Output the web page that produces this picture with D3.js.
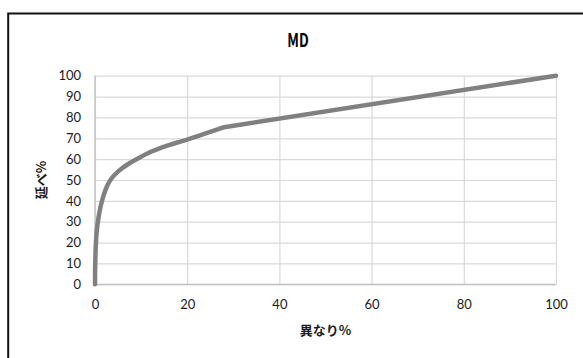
<!DOCTYPE html>
<html>
<head>
<meta charset="utf-8">
<script src="https://cdn.jsdelivr.net/npm/d3@7"></script>
<style>
  html, body { margin: 0; padding: 0; background: #fff; }
  svg { display: block; }
</style>
</head>
<body>
<svg id="chart" width="583" height="358"></svg>
<script>
// Cumulative share curve: distinct-item % (x) vs running-total % (y)
const xValues = [0, 0.05, 0.2, 0.4, 0.7, 1.0, 1.4, 2.0, 2.7, 3.5, 4.5, 5.8, 7.3, 9.2, 12, 14, 16, 18, 20, 24, 28, 100];
const yValues = [0, 10, 20, 26, 31, 35, 39, 43.5, 47.5, 50.5, 53, 55.5, 57.8, 60.2, 63.4, 65.2, 66.7, 68.1, 69.4, 72.3, 75.3, 100];
const xTicks = [0, 20, 40, 60, 80, 100];
const yTicks = [0, 10, 20, 30, 40, 50, 60, 70, 80, 90, 100];

const chartTitle = "MD";
const xTitle = "異なり%";
const yTitle = "延べ%";

const svg = d3.select("#chart");
const plot = { left: 95, right: 556, top: 75.7, bottom: 284.3 };

const x = d3.scaleLinear().domain([0, 100]).range([plot.left, plot.right]);
const y = d3.scaleLinear().domain([0, 100]).range([plot.bottom, plot.top]);

// Outer chart frame
svg.append("rect")
  .attr("x", 8.2).attr("y", 13.5)
  .attr("width", 600).attr("height", 400)
  .attr("fill", "#fff")
  .attr("stroke", "#111").attr("stroke-width", 2);

// Title
svg.append("text")
  .attr("transform", `translate(298,46.5) scale(0.74,1)`)
  .attr("text-anchor", "middle")
  .attr("font-family", "'Noto Sans CJK JP', 'Noto Sans', sans-serif")
  .attr("font-size", 18.5)
  .attr("font-weight", 700)
  .attr("fill", "#000")
  .text(chartTitle);

// Horizontal gridlines
svg.append("g")
  .attr("transform", `translate(${plot.left},0)`)
  .call(d3.axisLeft(y).tickValues(yTicks).tickSize(-(plot.right - plot.left)).tickFormat(""))
  .call(g => g.select(".domain").remove())
  .call(g => g.selectAll("line").attr("stroke", "#d9d9d9").attr("stroke-width", 1.2));

// Vertical gridlines
svg.append("g")
  .attr("transform", `translate(0,${plot.bottom})`)
  .call(d3.axisBottom(x).tickValues(xTicks).tickSize(-(plot.bottom - plot.top)).tickFormat(""))
  .call(g => g.select(".domain").remove())
  .call(g => g.selectAll("line").attr("stroke", "#d9d9d9").attr("stroke-width", 1.2));

// Axis lines
svg.append("line")
  .attr("x1", plot.left).attr("x2", plot.left)
  .attr("y1", plot.top).attr("y2", plot.bottom)
  .attr("stroke", "#bfbfbf").attr("stroke-width", 1.3);
svg.append("line")
  .attr("x1", plot.left).attr("x2", plot.right)
  .attr("y1", plot.bottom).attr("y2", plot.bottom)
  .attr("stroke", "#bfbfbf").attr("stroke-width", 1.3);

// Tick labels
const tickFont = "Lato, 'Open Sans', sans-serif";
svg.append("g")
  .attr("transform", `translate(${plot.left},0)`)
  .call(d3.axisLeft(y).tickValues(yTicks).tickSize(0).tickPadding(14))
  .call(g => g.select(".domain").remove())
  .call(g => g.selectAll("text")
    .attr("font-family", tickFont).attr("font-size", 13).attr("fill", "#1a1a1a"));

svg.append("g")
  .attr("transform", `translate(0,${plot.bottom})`)
  .call(d3.axisBottom(x).tickValues(xTicks).tickSize(0).tickPadding(15))
  .call(g => g.select(".domain").remove())
  .call(g => g.selectAll("text")
    .attr("font-family", tickFont).attr("font-size", 13).attr("fill", "#1a1a1a"));

// Axis titles
svg.append("text")
  .attr("x", (plot.left + plot.right) / 2).attr("y", 335)
  .attr("text-anchor", "middle")
  .attr("font-family", "'Noto Sans CJK JP', sans-serif")
  .attr("font-size", 13).attr("font-weight", 700)
  .attr("fill", "#1a1a1a")
  .text(xTitle);

svg.append("text")
  .attr("transform", `translate(46,${(plot.top + plot.bottom) / 2}) rotate(-90)`)
  .attr("text-anchor", "middle")
  .attr("font-family", "'Noto Sans CJK JP', sans-serif")
  .attr("font-size", 13).attr("font-weight", 700)
  .attr("fill", "#1a1a1a")
  .text(yTitle);

// Curve: smooth through the knee, straight tail after the last bend
const points = xValues.map((v, i) => [v, yValues[i]]);
const kneeIndex = points.length - 2;
const smooth = d3.line()
  .x(d => x(d[0])).y(d => y(d[1]))
  .curve(d3.curveCatmullRom.alpha(0.5));
const straight = d3.line()
  .x(d => x(d[0])).y(d => y(d[1]));

svg.append("path")
  .attr("d", smooth(points.slice(0, kneeIndex + 1)) + straight(points.slice(kneeIndex)))
  .attr("fill", "none")
  .attr("stroke", "#808080")
  .attr("stroke-width", 4.5)
  .attr("stroke-linejoin", "round")
  .attr("stroke-linecap", "round");
</script>
</body>
</html>
